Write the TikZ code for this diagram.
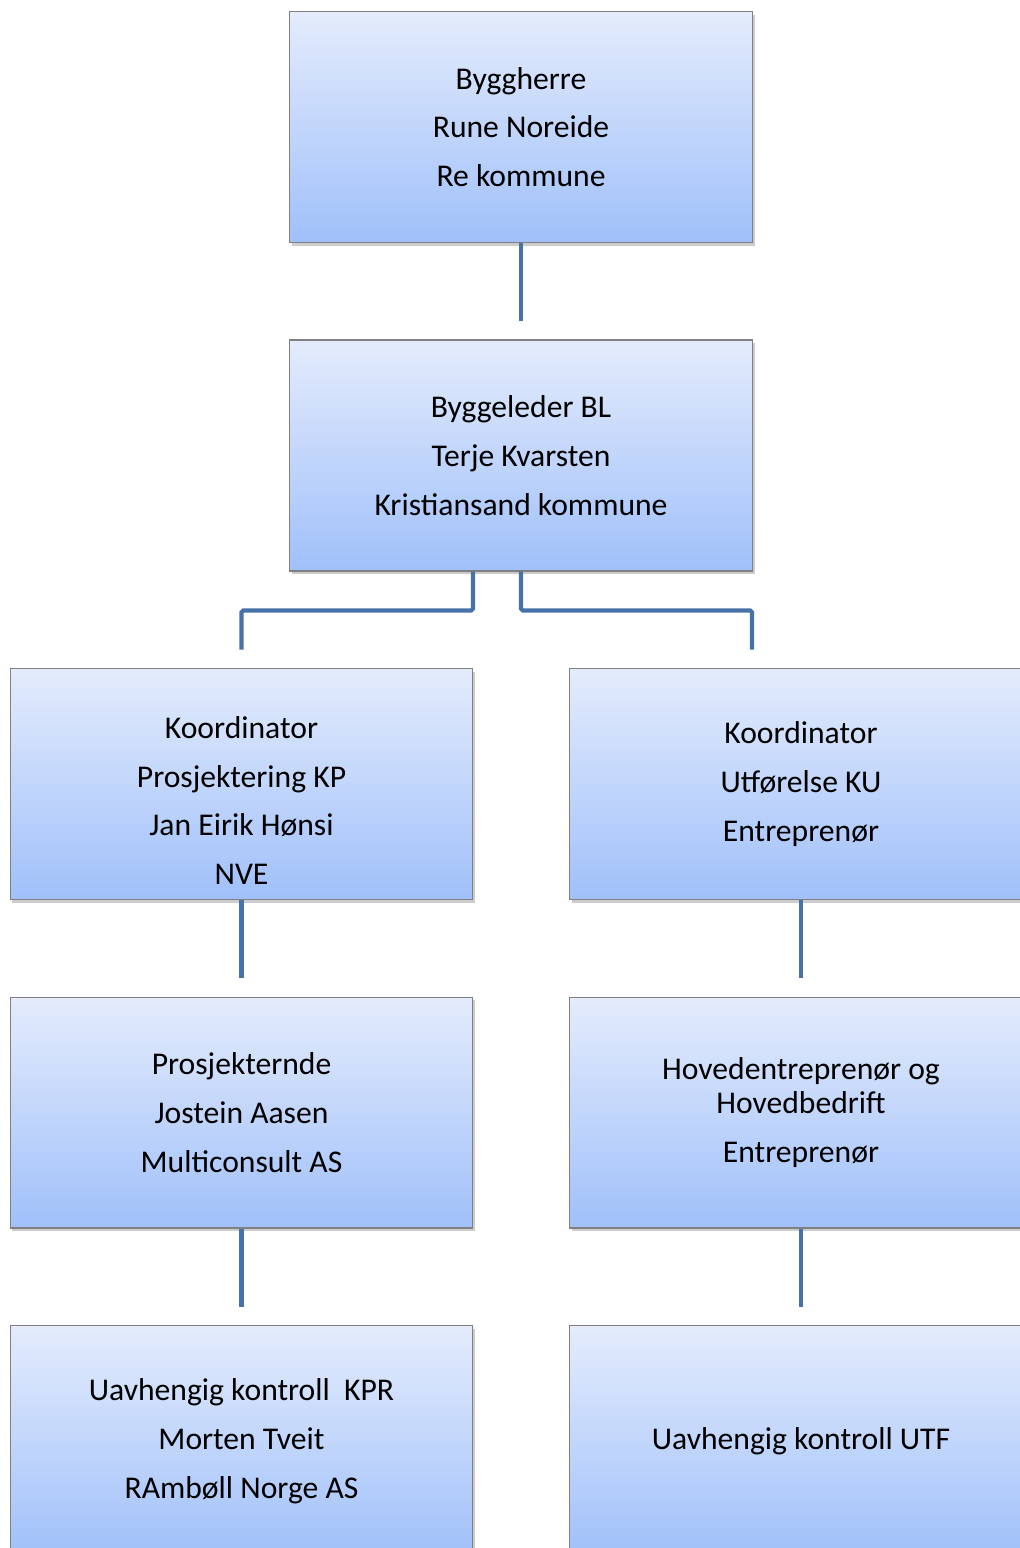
\documentclass[tikz,border=0pt]{standalone}
\usepackage{fontspec}
\setmainfont{Carlito}
\usetikzlibrary{positioning,shadows}
\definecolor{boxtop}{RGB}{228,236,252}
\definecolor{boxbot}{RGB}{160,192,250}
\definecolor{boxline}{RGB}{128,128,128}
\definecolor{linkblue}{RGB}{70,114,168}

\begin{document}
\begin{tikzpicture}[
		x=0.02cm,y=-0.02cm,
		boxtext/.style={
			align=center,
			font=\fontsize{18}{27.8}\selectfont
		},
		box/.style={
			boxtext,
			draw=boxline,
			line width=0.6pt,
			top color=boxtop,
			bottom color=boxbot,
			drop shadow={shadow xshift=1.2pt,shadow yshift=-1.8pt,opacity=0.4},
			minimum width=9.26cm,
			minimum height=4.62cm
		},
		link/.style={
			draw=linkblue,
			line width=2.3pt,
			rounded corners=1pt,
			shorten >=0.37cm
		}
		]
		\useasboundingbox (0,0) rectangle (1020,1548);
		\clip (0,0) rectangle (1020,1548);
		% Top of the organisation
		\node[box] (bh) at (521,127) {Byggherre\\Rune Noreide\\Re kommune};
		\node[box] (bl) at (521,455.5) {Byggeleder BL\\Terje Kvarsten\\Kristiansand kommune};
		% Koordinatorer
		\node[box,label={[boxtext,yshift=-0.33cm]center:{Koordinator\\Prosjektering KP\\Jan Eirik Hønsi\\NVE}}] (kp) at (241.5,784) {};
		\node[box] (ku) at (801,784) {Koordinator\\Utførelse KU\\Entreprenør};
		% Prosjektering / utførelse
		\node[box] (pros) at (241.5,1112.5) {Prosjekternde\\Jostein Aasen\\Multiconsult AS};
		\node[box] (hov) at (801,1112.5) {Hovedentreprenør og\\[-8pt]Hovedbedrift\\Entreprenør};
		% Uavhengig kontroll
		\node[box] (kpr) at (241.5,1441) {Uavhengig kontroll~~KPR\\Morten Tveit\\RAmbøll Norge AS};
		\node[box] (utf) at (801,1441) {Uavhengig kontroll UTF};
		% Byggherre -> Byggeleder
		\draw[link] (bh) -- (bl);
		% Byggeleder -> Koordinatorer
		\draw[link] ([xshift=-0.96cm]bl.south) -- ++(0,39) -| (kp);
		\draw[link] (bl.south) -- ++(0,39) -| ([xshift=-0.98cm]ku.north);
		% Koordinator -> ... -> kontroll
		\foreach \a/\b in {kp/pros,pros/kpr,ku/hov,hov/utf}
			\draw[link] (\a) -- (\b);
\end{tikzpicture}
\end{document}
